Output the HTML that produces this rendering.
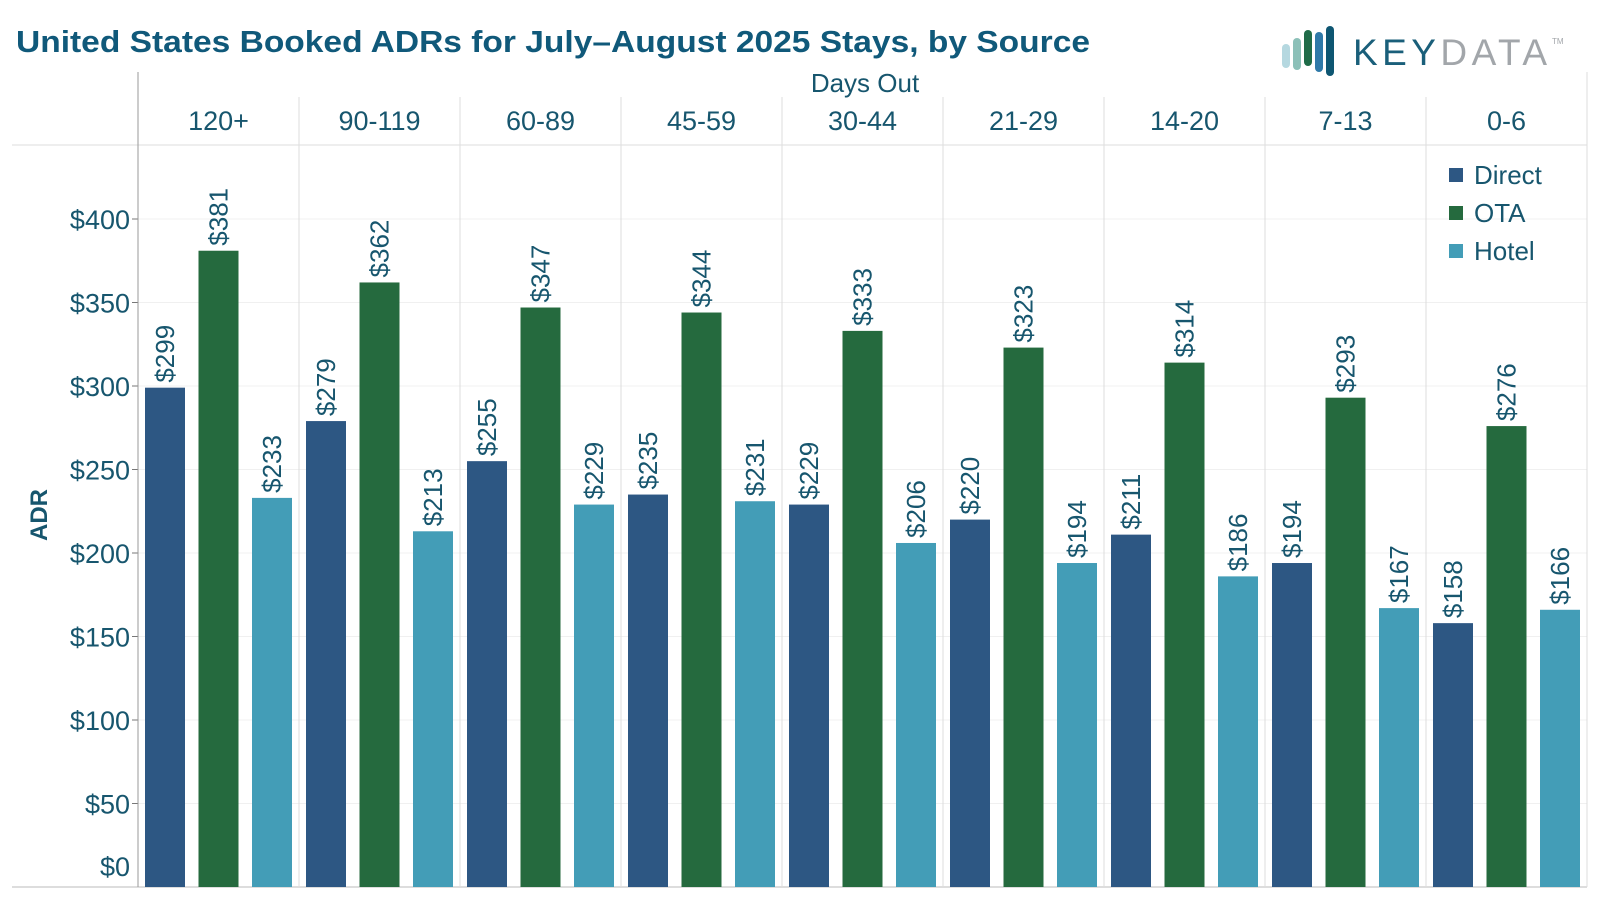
<!DOCTYPE html>
<html><head><meta charset="utf-8"><style>
body{margin:0;background:#fff;}
svg{display:block;font-family:"Liberation Sans",sans-serif;}
</style></head><body>
<svg id="chart" width="1600" height="900" viewBox="0 0 1600 900">
<text x="16" y="52" font-size="31" font-weight="bold" fill="#10597a" textLength="1074" lengthAdjust="spacingAndGlyphs">United States Booked ADRs for July–August 2025 Stays, by Source</text>
<g>
<rect x="1282" y="44" width="8" height="24" rx="4" fill="#b5d8e0"/>
<rect x="1293" y="38" width="8" height="32" rx="4" fill="#8cc0b8"/>
<rect x="1304" y="30" width="8" height="36" rx="4" fill="#1f6b48"/>
<rect x="1315" y="32" width="8" height="40" rx="4" fill="#2f79a8"/>
<rect x="1326" y="26" width="8" height="50" rx="4" fill="#0e5672"/>
<text x="1353" y="65" font-size="37" letter-spacing="6" fill="#1a5f7a" textLength="200" lengthAdjust="spacing">KEY<tspan fill="#a2a6aa">DATA</tspan></text>
<text x="1552" y="44" font-size="8" fill="#a2a6aa">TM</text>
</g>
<text x="865" y="92" font-size="26" fill="#17566e" text-anchor="middle">Days Out</text>
<text transform="translate(47,515) rotate(-90)" font-size="24" font-weight="bold" fill="#17566e" text-anchor="middle">ADR</text>
<g id="grid"></g><g id="bars"></g>
<g>
<rect x="1449" y="168" width="14" height="14" fill="#2d5783"/><text x="1474" y="184" font-size="26" fill="#17566e">Direct</text>
<rect x="1449" y="206" width="14" height="14" fill="#256a3e"/><text x="1474" y="222" font-size="26" fill="#17566e">OTA</text>
<rect x="1449" y="244" width="14" height="14" fill="#439db7"/><text x="1474" y="260" font-size="26" fill="#17566e">Hotel</text>
</g>
</svg>
<script>
const categories=["120+","90-119","60-89","45-59","30-44","21-29","14-20","7-13","0-6"];
const direct=[299,279,255,235,229,220,211,194,158];
const ota=[381,362,347,344,333,323,314,293,276];
const hotel=[233,213,229,231,206,194,186,167,166];
const yTicks=[0,50,100,150,200,250,300,350,400];
const seriesNames=["Direct","OTA","Hotel"];
const NS="http://www.w3.org/2000/svg";
const L=138,R=1587,BASE=887,PX=1.67,PW=(R-L)/categories.length;
const y=v=>BASE-v*PX;
const svg=document.getElementById('chart'),g=document.getElementById('grid'),b=document.getElementById('bars');
function mk(tag,at,parent){const e=document.createElementNS(NS,tag);for(const k in at)e.setAttribute(k,at[k]);parent.appendChild(e);return e;}
yTicks.forEach(t=>{
 const ln=mk('line',{x1:L,x2:R,y1:y(t),y2:y(t),stroke:'#f0f0f0','stroke-width':1},g);
 
 
 mk('line',{x1:L-6,x2:L,y1:y(t),y2:y(t),stroke:'#777'},g);
 const ty=t===0?y(t)-11:y(t)+10;
 const tx=mk('text',{x:L-8,y:ty,'font-size':27,fill:'#17566e','text-anchor':'end'},g);
 tx.textContent='$'+t;
 
 
});
mk('line',{x1:12,x2:R,y1:145,y2:145,stroke:'#ddd'},g);
mk('line',{x1:12,x2:R,y1:BASE,y2:BASE,stroke:'#bbb'},g);
mk('line',{x1:L,x2:L,y1:72,y2:BASE,stroke:'#999'},g);
mk('line',{x1:R,x2:R,y1:72,y2:BASE,stroke:'#ddd'},g);
const colors=['#2d5783','#256a3e','#439db7'];
const series=[direct,ota,hotel];
categories.forEach((c,i)=>{
 const px=L+i*PW;
 if(i>0) mk('line',{x1:px,x2:px,y1:97,y2:BASE,stroke:'#ddd'},g);
 const ct=mk('text',{x:px+PW/2,y:130,'font-size':27,fill:'#17566e','text-anchor':'middle'},g);
 ct.textContent=c;
 
 
 series.forEach((s,j)=>{
  const bx=px+7+j*53.5,v=s[i];
  const r=mk('rect',{x:bx,y:y(v),width:40,height:v*PX,fill:colors[j]},b);
  
  
  const t=mk('text',{transform:`translate(${bx+29},${y(v)-5}) rotate(-90)`,'font-size':26,fill:'#17566e'},b);
  t.textContent='$'+v;
  
  
 });
});
</script>
</body></html>
